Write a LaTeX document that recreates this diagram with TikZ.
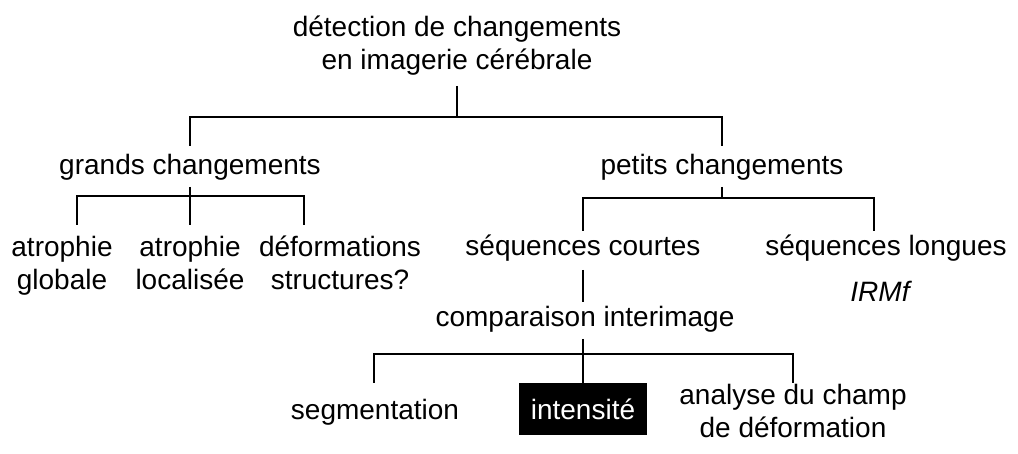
\documentclass[tikz,border=0pt]{standalone}
\usepackage{fontspec}
\setmainfont{Liberation Sans}
\begin{document}
\begin{tikzpicture}[x=1pt,y=-1pt,
  lbl/.style={inner sep=0pt, anchor=base, align=center, font=\fontsize{28}{33}\selectfont},
  conn/.style={line width=1.2pt, line cap=butt}]
\useasboundingbox (0,0) rectangle (1018,454);
% nodes (multi-line nodes are placed by the baseline of their last line)
\node[lbl] (title) at (457,70) {détection de changements\\en imagerie cérébrale};
\node[lbl] (grands) at (190,175) {grands changements};
\node[lbl] (petits) at (722,175) {petits changements};
\node[lbl] (globale) at (62,290) {atrophie\\globale};
\node[lbl] (localisee) at (190,290) {atrophie\\localisée};
\node[lbl] (deform) at (340,290) {déformations\\structures?};
\node[lbl] (courtes) at (583,256) {séquences courtes};
\node[lbl] (longues) at (886,256) {séquences longues};
\node[lbl, font=\fontsize{28}{33}\selectfont\itshape] (irmf) at (880,302) {IRMf};
\node[lbl] (comp) at (585,327) {comparaison interimage};
\node[lbl] (segm) at (375,420) {segmentation};
\node[inner sep=0pt, fill=black, text=white, minimum width=128pt, minimum height=52pt,
      text height=20pt, text depth=0pt, font=\fontsize{28}{33}\selectfont] (intens) at (583,409) {intensité};
\node[lbl] (champ) at (793,437) {analyse du champ\\de déformation};
% junction coordinates
\coordinate (t0) at (457,86);
\coordinate (t1) at (457,117);
\coordinate (tl) at (190,117);
\coordinate (tr) at (722,117);
\coordinate (gl) at (190,146);
\coordinate (pr) at (722,146);
% left subtree
\coordinate (g0) at (190,187);
\coordinate (g1) at (190,225);
\coordinate (gh1) at (77,196);
\coordinate (gh2) at (304,196);
\coordinate (ga) at (77,225);
\coordinate (gc) at (304,225);
% right subtree
\coordinate (p0) at (722,187);
\coordinate (p1) at (722,198);
\coordinate (ph1) at (583,198);
\coordinate (ph2) at (874,198);
\coordinate (pa) at (583,231);
\coordinate (pc) at (874,231);
\coordinate (s0) at (583,270);
\coordinate (s1) at (583,302);
% bottom subtree
\coordinate (c0) at (583,339);
\coordinate (c1) at (583,354);
\coordinate (ch1) at (374,354);
\coordinate (ch2) at (793,354);
\coordinate (ca) at (374,383);
\coordinate (cc) at (793,383);
% connectors
\draw[conn] (t0) -- (t1);
\draw[conn] (gl) -- (tl) -- (tr) -- (pr);
\draw[conn] (g0) -- (g1);
\draw[conn] (ga) -- (gh1) -- (gh2) -- (gc);
\draw[conn] (p0) -- (p1);
\draw[conn] (pa) -- (ph1) -- (ph2) -- (pc);
\draw[conn] (s0) -- (s1);
\draw[conn] (c0) -- (intens.north);
\draw[conn] (ca) -- (ch1) -- (ch2) -- (cc);
\end{tikzpicture}
\end{document}
